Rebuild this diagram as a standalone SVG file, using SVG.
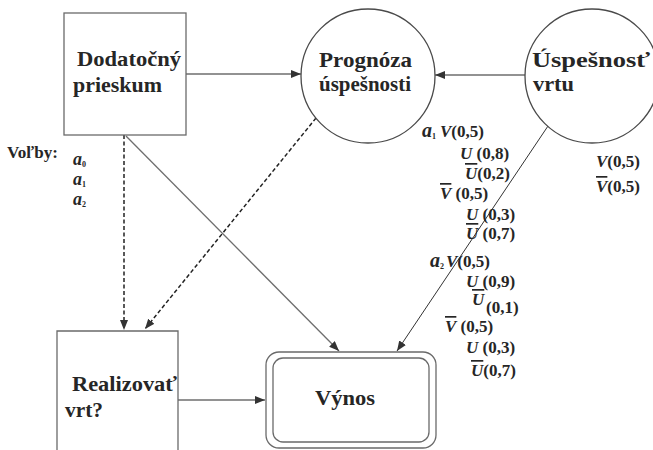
<svg xmlns="http://www.w3.org/2000/svg" width="653" height="450" viewBox="0 0 653 450">
  <style>
    .box { fill: none; stroke: #6a6a6a; stroke-width: 1.3; }
    .circ { fill: #fff; stroke: #4a4a4a; stroke-width: 1.3; }
    text { font-family: 'Liberation Serif', 'DejaVu Serif', 'Times New Roman', serif; font-weight: 700; fill: #262626; }
    .lbl { font-size: 22px; }
    .sm { font-size: 17px; }
    .it { font-style: italic; }
    .ov { text-decoration: overline; }
    .a { font-style: italic; font-size: 20px; }
    .av { font-style: italic; font-size: 18px; }
    .sub { font-size: 8px; font-style: normal; }
    .conn { stroke: #6e6e6e; stroke-width: 1.3; fill: none; }
    .dark { stroke: #333; stroke-width: 1; }
    .dash { stroke: #222; stroke-width: 1.5; stroke-dasharray: 4 2.5; }
  </style>
  <defs>
    <marker id="arr" markerUnits="userSpaceOnUse" markerWidth="11" markerHeight="9" refX="10" refY="4" orient="auto">
      <path d="M0,0 L10,4 L0,8 z" fill="#333"/>
    </marker>
  </defs>
  <rect width="653" height="450" fill="#fff"/>

  <!-- connectors -->
  <g id="connectors">
    <line class="conn" x1="186" y1="74" x2="301" y2="74" marker-end="url(#arr)"/>
    <line class="conn" x1="525" y1="75" x2="435" y2="75" marker-end="url(#arr)"/>
    <line class="dash" x1="124" y1="135" x2="124" y2="330" marker-end="url(#arr)"/>
    <line class="dash" x1="316" y1="118" x2="145" y2="329" marker-end="url(#arr)"/>
    <line class="conn" x1="126" y1="136" x2="339" y2="351" marker-end="url(#arr)"/>
    <line class="conn dark" x1="548" y1="126" x2="397" y2="351" marker-end="url(#arr)"/>
    <line class="conn" x1="178" y1="400" x2="265" y2="400" marker-end="url(#arr)"/>
  </g>

  <!-- decision: additional survey -->
  <g id="dodatocny">
    <rect class="box" x="64" y="13" width="122" height="122"/>
    <text class="lbl" x="77" y="66" textLength="104" lengthAdjust="spacingAndGlyphs">Dodatočný</text>
    <text class="lbl" x="73" y="92" textLength="89" lengthAdjust="spacingAndGlyphs">prieskum</text>
  </g>

  <!-- chance: forecast -->
  <g id="prognoza">
    <circle class="circ" cx="368" cy="76" r="67"/>
    <text class="lbl" x="319" y="67" textLength="93" lengthAdjust="spacingAndGlyphs">Prognóza</text>
    <text class="lbl" x="319" y="91" textLength="92" lengthAdjust="spacingAndGlyphs">úspešnosti</text>
  </g>

  <!-- chance: well success -->
  <g id="uspesnost">
    <circle class="circ" cx="592" cy="76" r="67"/>
    <text class="lbl" x="532" y="67" textLength="118" lengthAdjust="spacingAndGlyphs">Úspešnosť</text>
    <text class="lbl" x="533" y="91" textLength="41" lengthAdjust="spacingAndGlyphs">vrtu</text>
  </g>

  <!-- decision: drill -->
  <g id="realizovat">
    <path class="box" d="M57,452 V331 H178 V452"/>
    <text class="lbl" x="72" y="391" textLength="105" lengthAdjust="spacingAndGlyphs">Realizovať</text>
    <text class="lbl" x="65" y="417" textLength="38" lengthAdjust="spacingAndGlyphs">vrt?</text>
  </g>

  <!-- value node -->
  <g id="vynos">
    <rect class="box" x="266" y="352" width="170" height="96" rx="13"/>
    <rect class="box" x="273" y="358" width="156" height="84" rx="10"/>
    <text class="lbl" x="315" y="405" textLength="60" lengthAdjust="spacingAndGlyphs">Výnos</text>
  </g>

  <!-- options -->
  <g id="volby">
    <text class="sm" x="7" y="158" textLength="51" lengthAdjust="spacingAndGlyphs">Voľby:</text>
    <text class="av" x="73" y="165">a<tspan class="sub" dy="2">0</tspan></text>
    <text class="av" x="73" y="185">a<tspan class="sub" dy="2">1</tspan></text>
    <text class="av" x="73" y="205">a<tspan class="sub" dy="2">2</tspan></text>
  </g>

  <!-- probabilities -->
  <g id="pravdepodobnosti">
    <text class="a" x="422" y="137">a<tspan class="sub" dy="2">1</tspan></text>
    <text class="sm" x="440" y="137"><tspan class="it">V</tspan>(0,5)</text>
    <text class="sm" x="460" y="159"><tspan class="it">U</tspan> (0,8)</text>
    <text class="sm" x="465" y="179"><tspan class="it ov">U</tspan>(0,2)</text>
    <text class="sm" x="440" y="199"><tspan class="it ov">V</tspan>  (0,5)</text>
    <text class="sm" x="466" y="220"><tspan class="it">U</tspan> (0,3)</text>
    <text class="sm" x="466" y="239"><tspan class="it ov">U</tspan>  (0,7)</text>

    <text class="a" x="430" y="267">a<tspan class="sub" dy="2">2</tspan></text>
    <text class="sm" x="446" y="267"><tspan class="it">V</tspan>(0,5)</text>
    <text class="sm" x="466" y="287"><tspan class="it">U</tspan> (0,9)</text>
    <text class="sm" x="472" y="305"><tspan class="it ov">U</tspan></text>
    <text class="sm" x="486" y="313">(0,1)</text>
    <text class="sm" x="445" y="332"><tspan class="it ov">V</tspan>  (0,5)</text>
    <text class="sm" x="466" y="353"><tspan class="it">U</tspan> (0,3)</text>
    <text class="sm" x="471" y="376"><tspan class="it ov">U</tspan>(0,7)</text>

    <text class="sm" x="596" y="167"><tspan class="it">V</tspan>(0,5)</text>
    <text class="sm" x="596" y="192"><tspan class="it ov">V</tspan>(0,5)</text>
  </g>
</svg>
